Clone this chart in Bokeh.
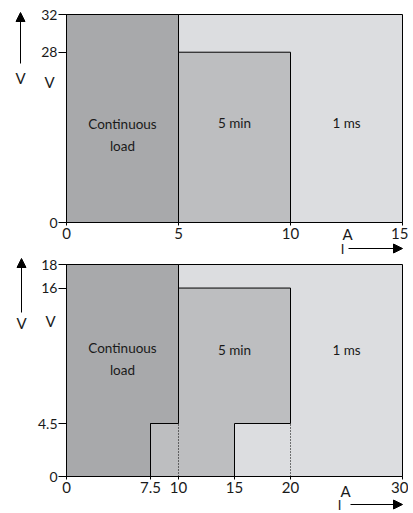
from bokeh.plotting import figure
from bokeh.layouts import column
from bokeh.models import (FixedTicker, Label, Arrow, NormalHead, Range1d, ColumnDataSource,
                          LinearAxis)
from bokeh.core.properties import value
from bokeh.embed import file_html
from bokeh.resources import INLINE

FONT = "Lato"
DARK = "#a8a9ab"
MID = "#bdbec0"
LIGHT = "#dcdde0"
INK = "#1a1a1a"

# ---------------- data: upper chart ----------------
top_x_max = 15
top_y_max = 32
top_x_ticks = [0, 5, 10, 15]
top_y_ticks = [0, 28, 32]
top_cont_x = [0, 5, 5, 0]
top_cont_y = [0, 0, 32, 32]
top_5min_x = [5, 10, 10, 5]
top_5min_y = [0, 0, 28, 28]

# ---------------- data: lower chart ----------------
bot_x_max = 30
bot_y_max = 18
bot_x_ticks = [0, 7.5, 10, 15, 20, 30]
bot_y_ticks = [0, 4.5, 16, 18]
bot_cont_x = [0, 7.5, 7.5, 10, 10, 0]
bot_cont_y = [0, 0, 4.5, 4.5, 18, 18]
bot_5min_x = [7.5, 15, 15, 20, 20, 10, 10, 7.5]
bot_5min_y = [0, 0, 4.5, 4.5, 16, 16, 4.5, 4.5]
bot_dotted_x = [10, 20]
bot_dotted_y = [0, 4.5]

region_labels = ["Continuous\nload", "5 min", "1 ms"]
x_unit = "A"
y_unit = "V"
x_sym = "I"

# upper chart's voltage axis is drawn with a compressed (schematic) top segment
BREAK = 28
STRETCH = 1.55


def top_scale(v):
    return v if v <= BREAK else BREAK + (v - BREAK) * STRETCH


# chart-area geometry in pixels (inside each figure canvas)
PAD_L, CHART_W, PAD_R = 66, 336, 6


def fmt(t):
    return "%g" % t


class Chart:
    def __init__(self, x_max, y_end, chart_h, pad_t, pad_b):
        self.kx = CHART_W / x_max
        self.ky = chart_h / y_end
        self.p = figure(width=PAD_L + CHART_W + PAD_R, height=pad_t + chart_h + pad_b,
                        x_range=Range1d(-PAD_L / self.kx, x_max + PAD_R / self.kx),
                        y_range=Range1d(-pad_b / self.ky, y_end + pad_t / self.ky),
                        x_axis_location=None, y_axis_location=None,
                        output_backend="svg", toolbar_location=None,
                        min_border=0)
        p = self.p
        p.background_fill_color = "white"
        p.border_fill_color = "white"
        p.outline_line_color = None
        p.grid.visible = False
        p.quad(left=0, right=x_max, bottom=0, top=y_end, fill_color=LIGHT,
               line_color="black", line_width=1)
        self.x_max, self.y_end = x_max, y_end

    # pixel offsets from the chart's lower-left corner -> data units
    def X(self, px):
        return px / self.kx

    def Y(self, py):
        return py / self.ky

    def axes(self, x_ticks, y_pos, y_lab):
        p = self.p
        xa = LinearAxis(fixed_location=0, bounds=(0, self.x_max),
                        ticker=FixedTicker(ticks=list(x_ticks)))
        xa.major_label_overrides = {float(t): fmt(t) for t in x_ticks}
        xa.major_tick_out = 3
        xa.major_tick_in = 0
        xa.major_label_standoff = 2
        xa.major_label_text_font_size = "15px"
        ya = LinearAxis(fixed_location=0, bounds=(0, self.y_end),
                        ticker=FixedTicker(ticks=list(y_pos)))
        ya.major_label_overrides = {float(t): l for t, l in zip(y_pos, y_lab)}
        ya.major_tick_out = 8
        ya.major_tick_in = 0
        ya.major_label_standoff = 1
        ya.major_label_text_font_size = "14px"
        for ax in (xa, ya):
            ax.axis_line_color = "black"
            ax.major_tick_line_color = "black"
            ax.minor_tick_line_color = None
            ax.major_label_text_font = FONT
            ax.major_label_text_color = INK
        p.add_layout(xa, "below")
        p.add_layout(ya, "left")

    def regions(self, cx, cy, mx, my, lab_pos):
        p = self.p
        p.patch(cx, cy, fill_color=DARK, line_color="black", line_width=1)
        p.patch(mx, my, fill_color=MID, line_color="black", line_width=1)
        src = ColumnDataSource(dict(x=[q[0] for q in lab_pos], y=[q[1] for q in lab_pos],
                                    t=region_labels))
        p.text(x="x", y="y", text="t", source=src, text_font=value(FONT),
               text_font_size="13.5px", text_color=INK, text_align="center",
               text_baseline="middle", text_line_height=1.35)

    def text(self, px, py, s, size="15px"):
        self.p.add_layout(Label(x=self.X(px), y=self.Y(py), text=s, text_font=FONT,
                                text_font_size=size, text_color=INK,
                                text_align="center", text_baseline="middle"))

    def arrow(self, px0, py0, px1, py1):
        self.p.add_layout(Arrow(x_start=self.X(px0), y_start=self.Y(py0),
                                x_end=self.X(px1), y_end=self.Y(py1),
                                line_color="black", line_width=1,
                                end=NormalHead(size=9, fill_color="black",
                                               line_color="black")))

    def decorate(self, pos):
        self.arrow(pos["up_x"], pos["up_y0"], pos["up_x"], pos["up_y1"])
        self.text(pos["up_x"], pos["v1_y"], y_unit)
        self.text(pos["v2_x"], pos["v2_y"], y_unit)
        self.text(pos["a_x"], pos["a_y"], x_unit)
        self.text(pos["i_x"], pos["i_y"], x_sym, "13px")
        self.arrow(pos["ar_x0"], pos["i_y"], CHART_W, pos["i_y"])


# ---------------- upper chart ----------------
top_end = top_scale(top_y_max)
c1 = Chart(top_x_max, top_end, 208, 14, 34)
c1.regions(top_cont_x, [top_scale(v) for v in top_cont_y],
           top_5min_x, [top_scale(v) for v in top_5min_y],
           [(2.5, 14.4), (7.5, 16.3), (12.5, 16.3)])
c1.axes(top_x_ticks, [top_scale(t) for t in top_y_ticks], [fmt(t) for t in top_y_ticks])
c1.decorate(dict(up_x=-46, up_y0=159, up_y1=210, v1_y=145, v2_x=-17, v2_y=141,
                 a_x=281, a_y=-11, i_x=276, i_y=-26, ar_x0=282))

# ---------------- lower chart ----------------
c2 = Chart(bot_x_max, bot_y_max, 212, 8, 37)
c2.regions(bot_cont_x, bot_cont_y, bot_5min_x, bot_5min_y,
           [(5, 10.0), (15, 10.7), (25, 10.7)])
for xv in bot_dotted_x:
    c2.p.line([xv, xv], bot_dotted_y, line_color="black", line_width=1, line_dash="1 2")
c2.axes(bot_x_ticks, bot_y_ticks, [fmt(t) for t in bot_y_ticks])
c2.decorate(dict(up_x=-45, up_y0=164, up_y1=218, v1_y=154, v2_x=-16, v2_y=156,
                 a_x=279, a_y=-14, i_x=273, i_y=-28, ar_x0=284))

layout = column(c1.p, c2.p, spacing=0)
open("out.html", "w").write(file_html(layout, INLINE))
